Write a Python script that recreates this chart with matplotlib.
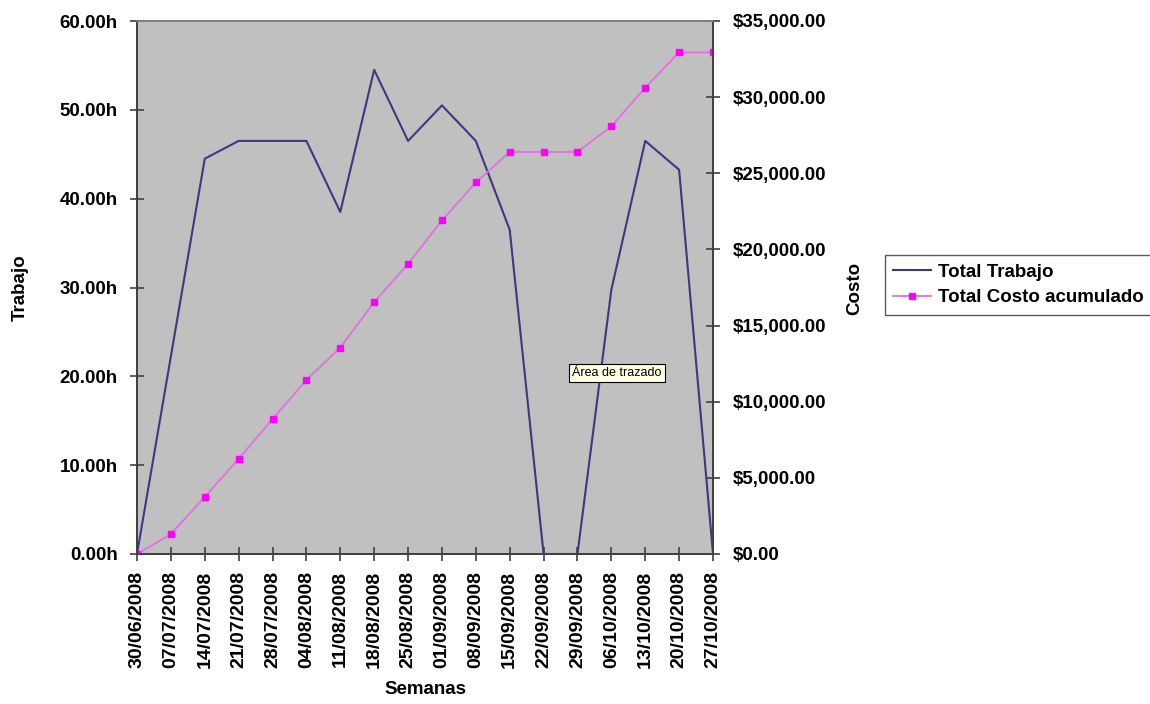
import matplotlib
matplotlib.use("Agg")
import matplotlib.pyplot as plt
from matplotlib.ticker import FuncFormatter, MultipleLocator

plt.rcParams['font.family'] = ['Liberation Sans', 'DejaVu Sans']
plt.rcParams['font.weight'] = 'bold'

semanas = ["30/06/2008", "07/07/2008", "14/07/2008", "21/07/2008", "28/07/2008",
           "04/08/2008", "11/08/2008", "18/08/2008", "25/08/2008", "01/09/2008",
           "08/09/2008", "15/09/2008", "22/09/2008", "29/09/2008", "06/10/2008",
           "13/10/2008", "20/10/2008", "27/10/2008"]
total_trabajo = [0, 22.25, 44.5, 46.5, 46.5, 46.5, 38.5, 54.5, 46.5, 50.5,
                 46.5, 36.5, 0, 0, 29.75, 46.5, 43.25, 0]
total_costo = [0, 1300, 3750, 6240, 8870, 11420, 13560, 16540, 19050, 21900,
               24400, 26400, 26400, 26400, 28080, 30620, 32940, 32940]

W, H = 1150, 704
fig = plt.figure(figsize=(W / 100, H / 100), dpi=100)
fig.patch.set_facecolor('white')
L, R, T, B = 137, 713, 21, 554
ax = fig.add_axes([L / W, 1 - B / H, (R - L) / W, (B - T) / H])
ax.set_facecolor('#c0c0c0')
ax2 = ax.twinx()

x = list(range(len(semanas)))
fs = 13.5

l1, = ax.plot(x, total_trabajo, color='#3a3a80', lw=1.5, label='Total Trabajo', zorder=3)
l2, = ax2.plot(x, total_costo, color='#e070e0', lw=1.3, marker='s', markersize=5,
               markerfacecolor='#ff00ff', markeredgecolor='#ff00ff', label='Total Costo acumulado')

ax.set_xlim(0, len(semanas) - 1)
ax.set_ylim(0, 60)
ax2.set_ylim(0, 35000)
ax.yaxis.set_major_locator(MultipleLocator(10))
ax2.yaxis.set_major_locator(MultipleLocator(5000))
ax.yaxis.set_major_formatter(FuncFormatter(lambda v, p: f"{v:.2f}h"))
ax2.yaxis.set_major_formatter(FuncFormatter(lambda v, p: f"${v:,.2f}"))
ax.set_xticks(x)
ax.set_xticklabels(semanas, rotation=90, fontsize=14, fontweight='bold')

ax.tick_params(axis='y', direction='inout', length=10, width=1.2, color='#404040',
               labelsize=fs, pad=9)
ax2.tick_params(axis='y', direction='inout', length=10, width=1.2, color='#404040',
                labelsize=fs, pad=9)
ax.tick_params(axis='x', direction='inout', length=10, width=1.2, color='#404040', pad=7)

for a in (ax, ax2):
    a.spines['top'].set_color('#808080')
    a.spines['left'].set_color('#404040')
    a.spines['right'].set_color('#404040')
    a.spines['bottom'].set_color('#404040')
    for s in a.spines.values():
        s.set_linewidth(1.3)

fig.text(20 / W, 1 - 288 / H, 'Trabajo', rotation=90, ha='center', va='center',
         fontsize=fs, fontweight='bold')
fig.text(855 / W, 1 - 288 / H, 'Costo', rotation=90, ha='center', va='center',
         fontsize=fs, fontweight='bold')
fig.text(425 / W, 1 - 690 / H, 'Semanas', ha='center', va='center',
         fontsize=fs, fontweight='bold')

leg = fig.legend(handles=[l1, l2], loc='upper left', bbox_to_anchor=(885 / W, 1 - 255 / H),
                 prop={'size': fs, 'weight': 'bold'}, frameon=True, fancybox=False, shadow=False,
                 handlelength=2.0, handletextpad=0.4, labelspacing=0.45,
                 borderpad=0.45, borderaxespad=0)
leg.get_frame().set_edgecolor('#303030')
leg.get_frame().set_linewidth(1.0)

fig.text(617 / W, 1 - 373 / H, 'Área de trazado', ha='center', va='center', fontsize=9,
         fontweight='normal',
         bbox=dict(boxstyle='square,pad=0.25', facecolor='#ffffe1', edgecolor='#000000', linewidth=0.8))

fig.savefig('out.png', dpi=100)
